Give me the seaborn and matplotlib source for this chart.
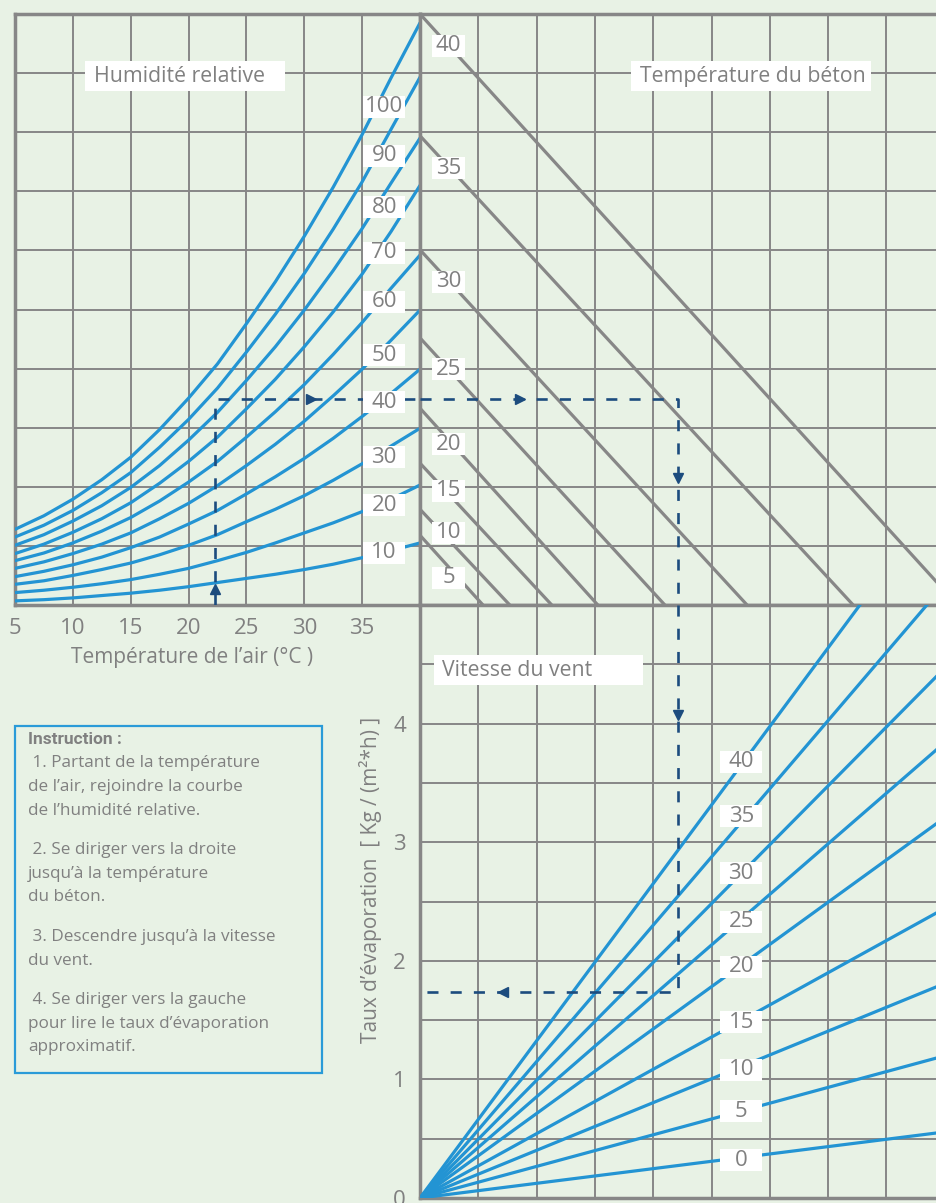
import numpy as np
import pandas as pd
import matplotlib
matplotlib.use("Agg")
import matplotlib.pyplot as plt
import seaborn as sns
from matplotlib.patches import Rectangle
from matplotlib.transforms import ScaledTranslation

# ---------------- data ----------------
air_temp = [5, 7.5, 10, 12.5, 15, 17.5, 20, 22.5, 25, 27.5, 30, 32.5, 35, 37.5, 40]
rh_levels = [100, 90, 80, 70, 60, 50, 40, 30, 20, 10]
rh_100 = [1.28, 1.51, 1.79, 2.12, 2.50, 2.97, 3.50, 4.08, 4.76, 5.47, 6.24, 7.07, 7.96, 8.92, 9.85]
rh_90 = [1.15, 1.35, 1.60, 1.90, 2.24, 2.67, 3.14, 3.67, 4.28, 4.92, 5.61, 6.36, 7.16, 8.05, 8.93]
rh_80 = [1.01, 1.19, 1.42, 1.68, 1.99, 2.36, 2.79, 3.26, 3.80, 4.37, 4.99, 5.66, 6.37, 7.14, 7.90]
rh_70 = [0.87, 1.03, 1.23, 1.46, 1.73, 2.06, 2.43, 2.84, 3.32, 3.82, 4.37, 4.96, 5.60, 6.32, 7.10]
rh_60 = [0.75, 0.88, 1.05, 1.25, 1.48, 1.76, 2.08, 2.43, 2.84, 3.27, 3.73, 4.24, 4.78, 5.36, 5.92]
rh_50 = [0.62, 0.73, 0.87, 1.03, 1.22, 1.46, 1.72, 2.02, 2.36, 2.72, 3.11, 3.54, 3.99, 4.48, 4.99]
rh_40 = [0.48, 0.57, 0.68, 0.81, 0.97, 1.15, 1.37, 1.60, 1.88, 2.17, 2.48, 2.82, 3.19, 3.58, 3.99]
rh_30 = [0.35, 0.41, 0.50, 0.60, 0.71, 0.85, 1.01, 1.19, 1.41, 1.62, 1.85, 2.11, 2.39, 2.69, 2.99]
rh_20 = [0.21, 0.25, 0.30, 0.36, 0.43, 0.52, 0.62, 0.75, 0.89, 1.05, 1.22, 1.39, 1.58, 1.79, 2.03]
rh_10 = [0.07, 0.09, 0.12, 0.16, 0.20, 0.25, 0.31, 0.38, 0.45, 0.52, 0.60, 0.69, 0.80, 0.92, 1.05]
rh_curves = [rh_100, rh_90, rh_80, rh_70, rh_60, rh_50, rh_40, rh_30, rh_20, rh_10]
air_tick_labels = [5, 10, 15, 20, 25, 30, 35]

concrete_temps = [5, 10, 15, 20, 25, 30, 35, 40]
concrete_level_at_axis = [1.18, 1.62, 2.40, 3.33, 4.52, 6.01, 7.94, 10.0]
concrete_offset_at_base = [1.08, 1.54, 2.26, 3.05, 4.20, 5.61, 7.43, 9.22]

wind_speeds = [0, 5, 10, 15, 20, 25, 30, 35, 40]
wind_rate_at_offset9 = [0.557, 1.199, 1.809, 2.442, 3.207, 3.840, 4.468, 5.176, 5.964]
evap_ticks = [0, 1, 2, 3, 4]

example_air_temp = 22.3
example_level = 3.49
example_offset = 4.43
example_rate = 1.74

instruction_title = "Instruction :"
instruction_lines = [
    " 1. Partant de la température",
    "de l\u2019air, rejoindre la courbe",
    "de l\u2019humidité relative.",
    " 2. Se diriger vers la droite",
    "jusqu\u2019à la température",
    "du béton.",
    " 3. Descendre jusqu\u2019à la vitesse",
    "du vent.",
    " 4. Se diriger vers la gauche",
    "pour lire le taux d\u2019évaporation",
    "approximatif.",
]

# ---------------- style ----------------
BG = "#E8F2E5"
GRID = "#878787"
BLUE = "#2394D3"
NAVY = "#1C4C7E"
TXT = "#808080"

sns.set_theme(style="white", rc={"figure.facecolor": BG, "axes.facecolor": BG})
plt.rcParams["font.family"] = ["Open Sans", "DejaVu Sans"]

W, H = 936, 1203
fig = plt.figure(figsize=(W / 100, H / 100), dpi=100)


def px_axes(x0, y0, x1, y1):
    return fig.add_axes([x0 / W, 1 - y1 / H, (x1 - x0) / W, (y1 - y0) / H])


ax_tl = px_axes(15, 14, 420, 605)
ax_tr = px_axes(420, 14, 420 + 9 * 58.3, 605)
ax_br = px_axes(420, 605, 420 + 9 * 58.3, 1198)

for ax in (ax_tl, ax_tr, ax_br):
    ax.set_facecolor(BG)
    for s in ax.spines.values():
        s.set_color(GRID)
        s.set_linewidth(2.5)
    ax.grid(True, which="both", color=GRID, linewidth=1.4)
    ax.set_axisbelow(True)
    ax.tick_params(length=0, which="both", colors=TXT, labelsize=16)

ax_tl.set_xlim(5, 40)
ax_tl.set_ylim(0, 10)
ax_tl.set_xticks(air_tick_labels + [40])
ax_tl.set_xticklabels([str(v) for v in air_tick_labels] + [""])
ax_tl.set_yticks(range(0, 11))
ax_tl.tick_params(labelleft=False, pad=9)

ax_tr.set_xlim(0, 9)
ax_tr.set_ylim(0, 10)
ax_tr.set_xticks(range(0, 10))
ax_tr.set_yticks(range(0, 11))
ax_tr.tick_params(labelleft=False, labelbottom=False)

ax_br.set_xlim(0, 9)
ax_br.set_ylim(0, 5)
ax_br.set_xticks(range(0, 10))
ax_br.set_yticks(evap_ticks)
ax_br.set_yticks(np.arange(0.5, 5, 1.0), minor=True)
ax_br.set_yticklabels([str(v) for v in evap_ticks])
ax_br.tick_params(labelbottom=False, pad=10)

# ---------------- curves ----------------
rh_df = pd.DataFrame(
    [(t, v, rh) for rh, vals in zip(rh_levels, rh_curves) for t, v in zip(air_temp, vals)],
    columns=["air", "level", "rh"],
)
sns.lineplot(data=rh_df, x="air", y="level", hue="rh", palette={r: BLUE for r in rh_levels},
             estimator=None, legend=False, linewidth=2.3, ax=ax_tl, zorder=3)

con_df = pd.DataFrame(
    [(0.0, lv, t) for t, lv in zip(concrete_temps, concrete_level_at_axis)]
    + [(b, 0.0, t) for t, b in zip(concrete_temps, concrete_offset_at_base)],
    columns=["offset", "level", "tc"],
)
sns.lineplot(data=con_df, x="offset", y="level", hue="tc", palette={t: GRID for t in concrete_temps},
             estimator=None, legend=False, linewidth=2.3, ax=ax_tr, zorder=3)

wind_df = pd.DataFrame(
    [(0.0, 0.0, v) for v in wind_speeds] + [(9.0, r, v) for v, r in zip(wind_speeds, wind_rate_at_offset9)],
    columns=["offset", "rate", "wind"],
)
sns.lineplot(data=wind_df, x="offset", y="rate", hue="wind", palette={v: BLUE for v in wind_speeds},
             estimator=None, legend=False, linewidth=2.3, ax=ax_br, zorder=3)

for ax in (ax_tl, ax_tr, ax_br):
    ax.set_xlabel("")
    ax.set_ylabel("")
ax_tl.set_xlim(5, 40); ax_tl.set_ylim(0, 10)
ax_tr.set_xlim(0, 9); ax_tr.set_ylim(0, 10)
ax_br.set_xlim(0, 9); ax_br.set_ylim(0, 5)

# ---------------- example path ----------------
dash = dict(color=NAVY, linewidth=1.9, linestyle=(0, (4.2, 4.6)), zorder=4, solid_capstyle="butt")
ax_tl.plot([example_air_temp, example_air_temp, 40], [0, example_level, example_level], **dash)
ax_tr.plot([0, example_offset, example_offset], [example_level, example_level, 0], **dash)
ax_br.plot([example_offset, example_offset, 0], [5, example_rate, example_rate], **dash)
mk = dict(color=NAVY, markersize=6.5, zorder=4, linestyle="none")
ax_tl.plot([example_air_temp], [0.27], marker="^", **mk)
ax_tl.plot([30.6], [example_level], marker=">", **mk)
ax_tr.plot([1.72], [example_level], marker=">", **mk)
ax_tr.plot([example_offset], [2.15], marker="v", **mk)
ax_br.plot([example_offset], [4.07], marker="v", **mk)
ax_br.plot([1.42], [example_rate], marker="<", **mk)


# ---------------- labels with white boxes ----------------
def box_text(ax, x, y, text, w, h, left=False, pad=0, fs=16):
    base = ScaledTranslation(x, y, ax.transData)
    tr = fig.dpi_scale_trans + base
    x0 = 0 if left else -w / 2
    ax.add_patch(Rectangle((x0 / 100, -h / 200), w / 100, h / 100, transform=tr,
                           facecolor="white", edgecolor="none", zorder=5, clip_on=False))
    if left:
        ax.text(pad / 100, 0, text, transform=tr, ha="left", va="center", fontsize=fs, color=TXT, zorder=6)
    else:
        ax.text(0, 0, text, transform=tr, ha="center", va="center", fontsize=fs, color=TXT, zorder=6)


rh_label_level = [8.43, 7.60, 6.73, 5.96, 5.13, 4.23, 3.43, 2.50, 1.69, 0.88]
for rh, lv in zip(rh_levels, rh_label_level):
    box_text(ax_tl, 36.9, lv, str(rh), 42, 22)

con_label_level = [0.46, 1.22, 1.93, 2.72, 3.99, 5.47, 7.39, 9.46]
for t, lv in zip(concrete_temps, con_label_level):
    box_text(ax_tr, 0.49, lv, str(t), 33, 22)

wind_label_rate = [0.32, 0.73, 1.08, 1.48, 1.95, 2.33, 2.74, 3.22, 3.68]
for v, r in zip(wind_speeds, wind_label_rate):
    box_text(ax_br, 5.51, r, str(v), 42, 22)

box_text(ax_tl, 11.05, 8.95, "Humidité relative", 200, 30, left=True, pad=9, fs=15.3)
box_text(ax_tr, 3.62, 8.95, "Température du béton", 240, 30, left=True, pad=9, fs=15.3)
box_text(ax_br, 0.24, 4.45, "Vitesse du vent", 209, 30, left=True, pad=8, fs=15.3)

# ---------------- axis titles ----------------
fig.text(192 / W, 1 - 657 / H, "Température de l\u2019air (°C )", ha="center", va="center",
         fontsize=15, color=TXT)
fig.text(370 / W, 1 - 880 / H, "Taux d\u2019évaporation  [ Kg / (m²*h) ]", ha="center", va="center",
         rotation=90, fontsize=15, color=TXT)

# ---------------- instruction box ----------------
fig.add_artist(Rectangle((15 / W, 1 - 1073 / H), (322 - 15) / W, (1073 - 726) / H,
                         transform=fig.transFigure, facecolor="none", edgecolor="#2A9BD8", linewidth=1.6))
fig.text(28 / W, 1 - 739 / H, instruction_title, ha="left", va="center", fontsize=12.5,
         fontweight="bold", color=TXT, family=["Liberation Sans Narrow", "Roboto", "DejaVu Sans"])
line_y = [763, 787, 811, 850, 874, 897, 937, 961, 1000, 1024, 1047]
for s, yy in zip(instruction_lines, line_y):
    fig.text(28 / W, 1 - yy / H, s, ha="left", va="center", fontsize=12.3, color=TXT)

fig.savefig("out.png", dpi=100, facecolor=BG)
